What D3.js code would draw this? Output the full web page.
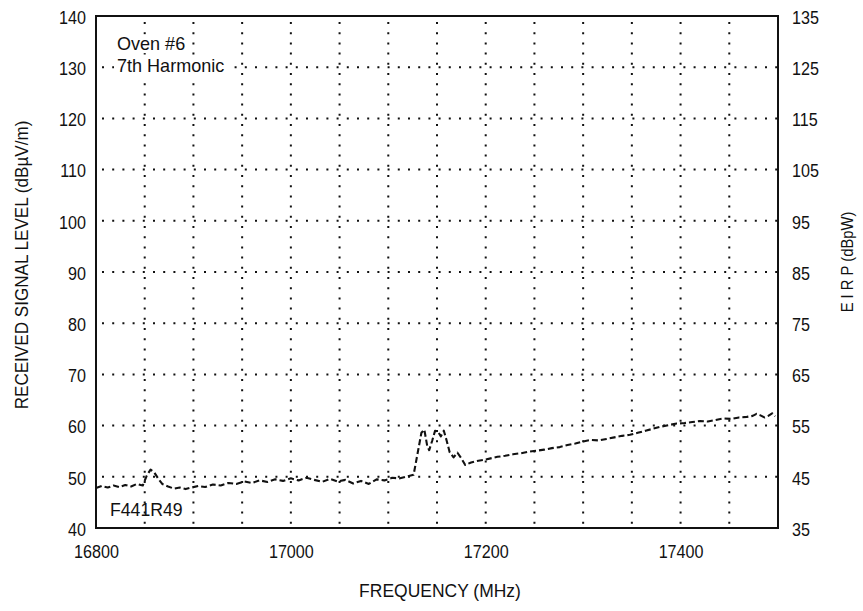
<!DOCTYPE html>
<html>
<head>
<meta charset="utf-8">
<script src="https://cdn.jsdelivr.net/npm/d3@7/dist/d3.min.js"></script>
<style>
  body { margin: 0; background: #fff; }
  svg text { font-family: "Liberation Sans", Arial, sans-serif; fill: #111; }
</style>
</head>
<body>
<svg id="chart" width="863" height="611"></svg>
<script>
// ---- data ----
const freqMHz = [16800,16806,16812,16818,16824,16830,16836,16842,16848,16852,16856,16860,16864,16868,16874,16880,16886,16892,16898,16905,16912,16920,16928,16936,16944,16952,16960,16968,16976,16984,16992,17000,17008,17016,17024,17032,17040,17048,17056,17064,17072,17080,17088,17096,17104,17112,17120,17126,17130,17134,17137,17140,17142,17145,17148,17151,17154,17157,17160,17163,17167,17171,17175,17179,17185,17191,17198,17205,17212,17220,17228,17236,17244,17252,17260,17268,17276,17284,17292,17300,17308,17316,17324,17332,17340,17348,17356,17364,17372,17380,17388,17396,17404,17412,17420,17428,17436,17444,17452,17460,17468,17474,17478,17482,17486,17490,17494,17497];
const levelDb = [47.8,48.2,47.9,48.3,48.0,48.4,48.1,48.6,48.3,50.2,51.4,50.8,49.6,48.6,48.1,47.7,47.9,47.6,47.9,48.2,48.0,48.5,48.3,48.8,48.6,49.1,48.8,49.3,49.0,49.5,49.2,49.7,49.3,49.8,49.4,49.0,49.6,49.1,49.4,48.7,49.2,48.6,49.5,49.3,49.8,49.7,50.1,50.4,54.5,58.6,59.2,56.0,55.2,57.0,59.0,58.8,57.9,59.0,57.0,54.8,53.8,54.7,53.6,52.3,52.8,53.1,53.3,53.6,53.9,54.1,54.4,54.6,54.9,55.1,55.3,55.6,55.8,56.2,56.5,56.9,57.2,57.1,57.4,57.7,58.0,58.2,58.6,59.0,59.4,59.8,60.1,60.4,60.5,60.7,60.9,60.8,61.1,61.4,61.3,61.6,61.7,61.9,62.3,62.0,61.6,61.9,62.4,61.8];

const xTicks = [16800, 17000, 17200, 17400];
const leftTicks = [40,50,60,70,80,90,100,110,120,130,140];
const rightTicks = [35,45,55,65,75,85,95,105,115,125,135];
const xGrid = d3.range(16850, 17500, 50);
const yGrid = [50,60,70,80,90,100,110,120,130];

const titleLines = ["Oven #6", "7th Harmonic"];
const runLabel = "F441R49";
const xTitle = "FREQUENCY (MHz)";
const yTitleLeft = "RECEIVED SIGNAL LEVEL (dBµV/m)";
const yTitleRight = "E I R P (dBpW)";

// ---- layout ----
const svg = d3.select("#chart");
const L = 96, T = 16, W = 682, H = 512;
const x = d3.scaleLinear().domain([16800, 17500]).range([L, L + W]);
const y = d3.scaleLinear().domain([40, 140]).range([T + H, T]);
const y2 = d3.scaleLinear().domain([35, 135]).range([T + H, T]);

// condensed text helper: horizontal squeeze keeping anchor point
function narrow(sel, sx) {
  sel.each(function () {
    const t = d3.select(this);
    const x0 = +(t.attr("x") || 0);
    const y0 = +(t.attr("y") || 0);
    t.attr("x", 0).attr("y", 0)
     .attr("transform", `translate(${x0},${y0}) scale(${sx},1)`);
  });
}

// grid
const grid = svg.append("g").attr("stroke", "#111").attr("stroke-width", 2)
  .attr("stroke-dasharray", "2 8.2").attr("fill", "none");
grid.selectAll("line.v").data(xGrid).join("line")
  .attr("x1", d => x(d)).attr("x2", d => x(d))
  .attr("y1", T + 6).attr("y2", T + H);
grid.selectAll("line.h").data(yGrid).join("line")
  .attr("y1", d => y(d)).attr("y2", d => y(d))
  .attr("x1", L + 6).attr("x2", L + W);

// annotation texts with white backgrounds
const ann = svg.append("g");
titleLines.forEach((t, i) => {
  const tx = ann.append("text").attr("x", 117).attr("y", 50 + i * 22)
    .attr("font-size", 19).text(t);
  narrow(tx, 0.95);
  const bb = tx.node().getBBox();
  const w = bb.width * 0.95;
  ann.insert("rect", "text").attr("x", 117 - 3).attr("y", 50 + i * 22 + bb.y + 2)
    .attr("width", w + 6).attr("height", bb.height - 3).attr("fill", "#fff");
});
const rl = svg.append("text").attr("x", 110).attr("y", 516).attr("font-size", 19).text(runLabel);
narrow(rl, 0.93);

// data line
const line = d3.line().x((d, i) => x(freqMHz[i])).y(d => y(d));
svg.append("path").datum(levelDb).attr("d", line)
  .attr("fill", "none").attr("stroke", "#111").attr("stroke-width", 2.1)
  .attr("stroke-dasharray", "6 3").attr("stroke-linejoin", "round");

// frame
svg.append("rect").attr("x", L).attr("y", T).attr("width", W).attr("height", H)
  .attr("fill", "none").attr("stroke", "#111").attr("stroke-width", 2);

// axes (labels only)
const axL = d3.axisLeft(y).tickValues(leftTicks).tickSize(0).tickPadding(10);
const gL = svg.append("g").attr("transform", `translate(${L},0)`).call(axL);
const axR = d3.axisRight(y2).tickValues(rightTicks).tickSize(0).tickPadding(14);
const gR = svg.append("g").attr("transform", `translate(${L + W},0)`).call(axR);
const axB = d3.axisBottom(x).tickValues(xTicks).tickFormat(d3.format("d")).tickSize(0).tickPadding(13);
const gB = svg.append("g").attr("transform", `translate(0,${T + H})`).call(axB);
[gL, gR, gB].forEach(g => {
  g.select(".domain").remove();
  g.selectAll("text").attr("font-size", 19).attr("fill", "#111")
    .style("font-family", '"Liberation Sans", Arial, sans-serif');
});
gL.selectAll("text").attr("dy", "0.38em");
gR.selectAll("text").attr("dy", "0.38em");
gB.selectAll("text").attr("dy", "0.92em");
narrow(gL.selectAll("text"), 0.85);
narrow(gR.selectAll("text"), 0.85);
narrow(gB.selectAll("text"), 0.85);

// titles
svg.append("text").attr("transform", "translate(440,597) scale(0.92,1)")
  .attr("text-anchor", "middle").attr("font-size", 19).text(xTitle);
svg.append("text").attr("transform", "translate(28,265) rotate(-90) scale(0.9,1)")
  .attr("text-anchor", "middle").attr("font-size", 19).text(yTitleLeft);
svg.append("text").attr("transform", "translate(853,262) rotate(-90) scale(0.87,1)")
  .attr("text-anchor", "middle").attr("font-size", 17).text(yTitleRight);
</script>
</body>
</html>
